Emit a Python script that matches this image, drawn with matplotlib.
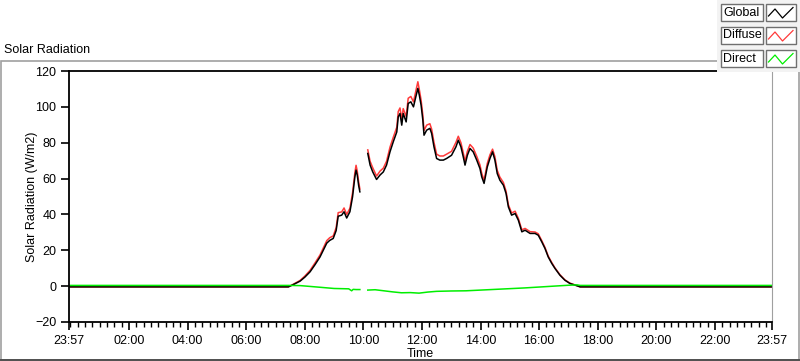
import matplotlib
matplotlib.use('Agg')
import matplotlib.pyplot as plt
from matplotlib.patches import Rectangle
from matplotlib.lines import Line2D
import numpy as np

plt.rcParams['font.family'] = ['Liberation Sans', 'DejaVu Sans']
plt.rcParams['font.size'] = 9

# hours since midnight (23:57 of the day before is -0.05), nan = no data
global_t = [-0.05, 7.44, 7.6, 7.84, 8.0, 8.18, 8.35, 8.52, 8.75, 8.85, 8.97, 9.07, 9.14, 9.26,
            9.34, 9.43, 9.54, 9.63, 9.71, 9.75, 9.79, 9.84, 9.88, np.nan,
            10.15, 10.23, 10.32, 10.45, 10.57, 10.68, 10.79, 10.91, 11.02, 11.14, 11.19,
            11.25, 11.31, 11.36, 11.46, 11.53, 11.62, 11.71, 11.79, 11.86, 11.91, 11.97,
            12.03, 12.07, 12.16, 12.27, 12.33, 12.41, 12.5, 12.61, 12.73, 12.84, 13.01,
            13.16, 13.24, 13.33, 13.41, 13.47, 13.55, 13.64, 13.75, 13.87, 13.98, 14.04,
            14.12, 14.23, 14.32, 14.41, 14.49, 14.57, 14.66, 14.78, 14.87, 14.95, 15.06,
            15.18, 15.29, 15.41, 15.52, 15.69, 15.86, 15.97, 16.09, 16.2, 16.31, 16.43,
            16.54, 16.71, 16.88, 17.05, 17.22, 17.4, 23.95]
global_v = [-0.4, -0.4, 0.8, 2.8, 5.0, 8.0, 12.0, 16.3, 24.0, 25.5, 26.6, 31.0, 39.0, 39.6,
            41.5, 38.0, 41.5, 49.8, 61.0, 64.7, 62.0, 56.0, 52.6, np.nan,
            74.0, 67.5, 63.7, 59.5, 62.0, 63.7, 67.5, 75.0, 80.5, 86.0, 94.4,
            96.3, 89.8, 96.3, 91.6, 101.9, 102.8, 100.0, 105.6, 110.3, 106.5, 101.0,
            92.6, 84.2, 87.0, 88.0, 85.2, 77.7, 71.2, 70.3, 70.3, 71.2, 73.0,
            77.7, 81.4, 77.7, 72.1, 67.5, 73.0, 76.8, 74.9, 70.3, 65.6, 61.0,
            57.3, 66.5, 71.2, 74.9, 70.3, 62.8, 59.1, 56.3, 51.7, 44.2, 39.6,
            40.5, 36.8, 30.3, 31.2, 29.4, 29.4, 28.4, 24.7, 21.0, 16.3, 12.7,
            9.9, 6.1, 3.3, 1.5, 0.6, -0.4, -0.4]
diffuse_v = [-0.4, -0.4, 1.0, 3.2, 5.6, 8.8, 13.0, 17.4, 25.4, 27.0, 28.0, 32.6, 41.0, 41.4,
             43.6, 40.0, 43.4, 52.0, 63.4, 67.4, 64.2, 58.0, 54.2, np.nan,
             76.0, 69.6, 66.0, 61.4, 64.2, 65.8, 69.6, 77.6, 83.0, 88.6, 97.4,
             99.4, 93.0, 99.0, 94.6, 104.8, 105.8, 102.8, 108.8, 114.0, 109.6, 103.8,
             95.4, 86.8, 89.8, 90.6, 87.6, 80.2, 73.6, 72.6, 72.6, 73.6, 75.2,
             80.2, 83.6, 80.0, 74.4, 69.6, 75.2, 79.0, 77.0, 72.4, 67.6, 63.0,
             59.0, 68.4, 73.2, 76.4, 72.2, 64.6, 60.8, 57.8, 53.0, 45.4, 40.8,
             41.8, 37.8, 31.4, 32.2, 30.4, 30.2, 29.2, 25.4, 21.6, 16.8, 13.2,
             10.2, 6.4, 3.5, 1.7, 0.7, -0.4, -0.4]

direct_t = [-0.05, 7.44, 7.84, 8.5, 9.0, 9.5, 9.6, 9.65, 9.75, 9.88, np.nan,
            10.15, 10.4, 10.6, 11.0, 11.3, 11.6, 11.9, 12.2, 12.5, 13.0, 13.5, 14.0,
            14.5, 15.0, 15.5, 16.0, 16.5, 17.0, 17.3, 17.4, 23.95]
direct_v = [0.4, 0.4, 0.3, -0.6, -1.3, -1.5, -2.6, -1.8, -1.9, -1.9, np.nan,
            -2.2, -2.0, -2.4, -3.2, -3.7, -3.6, -3.9, -3.3, -2.9, -2.7, -2.6, -2.2,
            -1.8, -1.4, -1.0, -0.5, 0.0, 0.5, 0.7, 0.4, 0.4]

x_ticks = [-0.05, 2, 4, 6, 8, 10, 12, 14, 16, 18, 20, 22, 23.95]
x_labels = ['23:57', '02:00', '04:00', '06:00', '08:00', '10:00', '12:00', '14:00',
            '16:00', '18:00', '20:00', '22:00', '23:57']
y_ticks = [-20, 0, 20, 40, 60, 80, 100, 120]
legend_names = ['Global', 'Diffuse', 'Direct']

W, H = 800, 361
colors = ['black', '#ff3a3a', '#00ee00']


def fx(px):
    return px / W


def fy(py):
    return 1 - py / H


fig = plt.figure(figsize=(W / 100, H / 100), dpi=100)
fig.patch.set_facecolor('white')

# outer frame
fig.patches.append(Rectangle((fx(0.5), fy(360)), fx(798.5), (360 - 61) / H,
                             transform=fig.transFigure, fill=False,
                             edgecolor='#a0a0a0', linewidth=1.2))
fig.lines.append(Line2D([fx(0), fx(800)], [fy(360), fy(360)], transform=fig.transFigure,
                        color='#404040', linewidth=1.2))
fig.text(fx(4), fy(50), 'Solar Radiation', ha='left', va='center', fontsize=9)

ax = fig.add_axes([fx(69), fy(322), fx(772) - fx(69), fy(71) - fy(322)])
ax.plot(global_t, diffuse_v, color=colors[1], linewidth=1.1)
ax.plot(global_t, global_v, color=colors[0], linewidth=1.1)
ax.plot(direct_t, direct_v, color=colors[2], linewidth=1.1)

ax.set_xlim(-0.05, 23.95)
ax.set_ylim(-20, 120)
ax.set_xticks(x_ticks)
ax.set_xticklabels(x_labels)
ax.set_xticks(np.arange(0, 24, 0.25), minor=True)
ax.set_yticks(y_ticks)
ax.tick_params(axis='both', which='major', direction='out', length=6, width=1.2,
               labelsize=9, pad=3)
ax.tick_params(axis='x', which='minor', direction='out', length=3.5, width=1)
ax.set_xlabel('Time', fontsize=9, labelpad=1)
ax.set_ylabel('Solar Radiation (W/m2)', fontsize=9, labelpad=-2)
for side in ['left', 'bottom', 'top']:
    ax.spines[side].set_color('black')
    ax.spines[side].set_linewidth(1.3)
ax.spines['right'].set_color('#a0a0a0')

# legend panel
fig.patches.append(Rectangle((fx(717), fy(72)), fx(83), 72 / H, transform=fig.transFigure,
                             facecolor='#f3f3f3', edgecolor='none', zorder=5))
rows = [4, 27, 50]
for name, col, top in zip(legend_names, colors, rows):
    fig.patches.append(Rectangle((fx(720.5), fy(top + 16.5)), fx(42), 16.5 / H,
                                 transform=fig.transFigure, facecolor='white',
                                 edgecolor='#707070', linewidth=1, zorder=6))
    fig.text(fx(723), fy(top + 8.5), name, ha='left', va='center', fontsize=9, zorder=7)
    fig.patches.append(Rectangle((fx(766), fy(top + 16.5)), fx(30), 16.5 / H,
                                 transform=fig.transFigure, facecolor='white',
                                 edgecolor='#707070', linewidth=1, zorder=6))
    zx = [768.5, 775, 782.5, 793]
    zy = [top + 12, top + 5, top + 14, top + 3.5]
    fig.lines.append(Line2D([fx(p) for p in zx], [fy(p) for p in zy],
                            transform=fig.transFigure, color=col, linewidth=0.9, zorder=7))

fig.savefig('out.png', dpi=100)
